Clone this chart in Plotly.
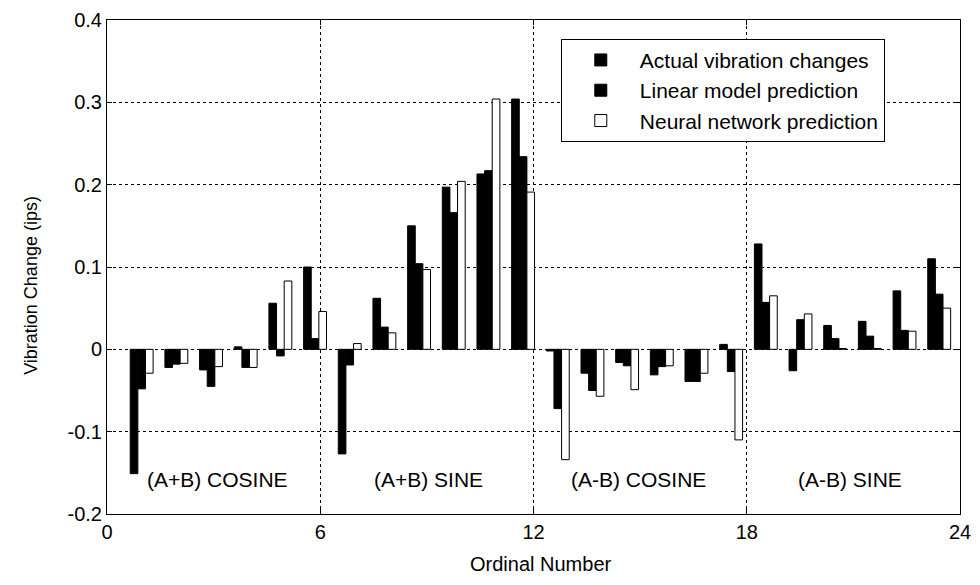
import plotly.graph_objects as go

ordinal = list(range(1, 25))
actual = [-0.151, -0.022, -0.025, 0.003, 0.056, 0.100,
          -0.127, 0.062, 0.150, 0.197, 0.213, 0.304,
          -0.002, -0.029, -0.016, -0.031, -0.039, 0.006,
          0.128, -0.026, 0.029, 0.034, 0.071, 0.110]
linear = [-0.048, -0.018, -0.045, -0.022, -0.008, 0.013,
          -0.019, 0.027, 0.104, 0.166, 0.217, 0.234,
          -0.072, -0.050, -0.020, -0.021, -0.039, -0.027,
          0.057, 0.036, 0.013, 0.016, 0.023, 0.067]
neural = [-0.029, -0.017, -0.021, -0.022, 0.083, 0.046,
          0.007, 0.020, 0.097, 0.204, 0.304, 0.191,
          -0.134, -0.057, -0.049, -0.020, -0.029, -0.110,
          0.065, 0.043, 0.001, 0.001, 0.022, 0.050]

series_names = ["Actual vibration changes", "Linear model prediction", "Neural network prediction"]
section_labels = ["(A+B) COSINE", "(A+B) SINE", "(A-B) COSINE", "(A-B) SINE"]
section_centers = [3.1, 9.05, 14.95, 20.9]
section_label_y = -0.158
xticks = [0, 6, 12, 18, 24]
yticks = [-0.2, -0.1, 0, 0.1, 0.2, 0.3, 0.4]
ytick_text = ["-0.2", "-0.1", "0", "0.1", "0.2", "0.3", "0.4"]
x_title = "Ordinal Number"
y_title = "Vibration Change (ips)"

FONT = "Liberation Sans, Arial, sans-serif"

fig = go.Figure()
fills = ["black", "black", "white"]
for name, vals, fc in zip(series_names, [actual, linear, neural], fills):
    fig.add_trace(go.Bar(x=ordinal, y=vals, name=name, xaxis="x2", yaxis="y",
                         marker=dict(color=fc, line=dict(color="black", width=1))))

for lab, cx in zip(section_labels, section_centers):
    fig.add_annotation(x=cx, y=section_label_y, xref="x", yref="y", text=lab,
                       showarrow=False, font=dict(size=21, color="black", family=FONT))

fig.add_annotation(x=0.509, y=-0.102, xref="paper", yref="paper", text=x_title,
                   showarrow=False, xanchor="center", yanchor="middle",
                   font=dict(size=20, color="black", family=FONT))
fig.add_annotation(x=-0.089, y=0.462, xref="paper", yref="paper", text=y_title,
                   showarrow=False, textangle=-90, xanchor="center", yanchor="middle",
                   font=dict(size=18, color="black", family=FONT))

axis_common = dict(showline=True, linecolor="black", linewidth=1, mirror="ticks",
                   ticks="inside", ticklen=5, tickcolor="black",
                   showgrid=True, gridcolor="black", griddash="dot", gridwidth=1,
                   zeroline=False, ticklabeloverflow="allow",
                   tickfont=dict(size=20, color="black", family=FONT))

fig.update_layout(
    width=980, height=585,
    margin=dict(l=107, r=9, t=14, b=71),
    plot_bgcolor="white", paper_bgcolor="white",
    barmode="group", bargap=0.34, bargroupgap=0,
    font=dict(family=FONT, color="black"),
    xaxis=dict(range=[0, 24], tickvals=xticks, **axis_common),
    xaxis2=dict(range=[0, 24.6], overlaying="x", visible=False, showgrid=False),
    yaxis=dict(range=[-0.2, 0.4], tickvals=yticks, ticktext=ytick_text, **axis_common),
    legend=dict(x=0.532, y=0.962, xanchor="left", yanchor="top",
                bgcolor="white", bordercolor="black", borderwidth=1,
                font=dict(size=21, color="black", family=FONT),
                traceorder="normal", itemwidth=68, tracegroupgap=0),
    showlegend=True,
)

fig.write_html("out.html")
